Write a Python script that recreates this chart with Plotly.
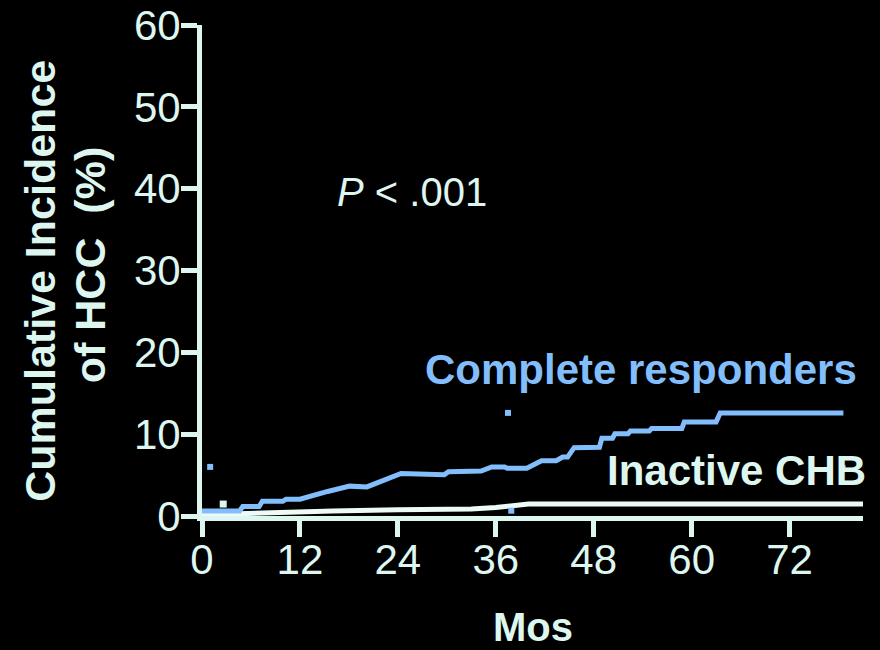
import plotly.graph_objects as go

# Cumulative incidence of HCC (%) by months of follow-up
cr_months = [0, 4.6, 5.0, 7.0, 7.4, 9.9, 10.3, 12.0, 15.4, 18.1, 20.2, 21.8, 23.4, 24.4,
             29.7, 30.2, 34.2, 35.5, 37.1, 37.4, 39.8, 41.6, 43.4, 44.2, 44.8, 45.6,
             48.7, 49.0, 50.3, 50.6, 52.2, 52.5, 54.8, 55.1, 58.8, 59.1, 63.0, 63.5, 78.6]
cr_incidence = [0.6, 0.6, 1.15, 1.15, 1.8, 1.8, 2.05, 2.05, 3.0, 3.65, 3.55, 4.2, 4.7, 5.2,
                5.05, 5.4, 5.5, 6.0, 6.0, 5.85, 5.85, 6.75, 6.75, 7.2, 7.2, 8.35,
                8.4, 9.5, 9.5, 10.05, 10.05, 10.4, 10.4, 10.7, 10.7, 11.5, 11.5, 12.6, 12.6]

chb_months = [0, 3, 10, 16, 24, 30, 33, 36, 38, 40, 81]
chb_incidence = [0.15, 0.25, 0.4, 0.6, 0.75, 0.8, 0.85, 1.05, 1.25, 1.46, 1.46]

# small square marks scattered on the chart
blue_mark_months = [1.0, 37.5, 37.9, 78.5]
blue_mark_values = [6.0, 12.6, 0.65, 5.85]
white_mark_months = [2.6]
white_mark_values = [1.46]

x_ticks = [0, 12, 24, 36, 48, 60, 72]
y_ticks = [0, 10, 20, 30, 40, 50, 60]

BLUE = "rgb(130,190,252)"
MINT = "rgb(222,246,240)"
FONT = "Liberation Sans, Arial, sans-serif"

fig = go.Figure()
fig.add_trace(go.Scatter(x=chb_months, y=chb_incidence, mode="lines",
                         line=dict(color="rgb(238,250,246)", width=5),
                         cliponaxis=False, showlegend=False))
fig.add_trace(go.Scatter(x=cr_months, y=cr_incidence, mode="lines",
                         line=dict(color=BLUE, width=5),
                         cliponaxis=False, showlegend=False))
fig.add_trace(go.Scatter(x=blue_mark_months, y=blue_mark_values, mode="markers",
                         marker=dict(symbol="square", size=6, color=BLUE),
                         cliponaxis=False, showlegend=False))
fig.add_trace(go.Scatter(x=white_mark_months, y=white_mark_values, mode="markers",
                         marker=dict(symbol="square", size=7, color=MINT),
                         cliponaxis=False, showlegend=False))

axis_common = dict(showgrid=False, zeroline=False, showline=True, linecolor=MINT,
                   linewidth=5, ticks="outside", ticklen=16, tickwidth=5,
                   tickcolor=MINT, automargin=False,
                   tickfont=dict(family=FONT, size=42, color=MINT))
fig.update_xaxes(range=[0, 81], tickvals=x_ticks, ticktext=[str(v) for v in x_ticks],
                 ticklabelstandoff=-13, **axis_common)
fig.update_yaxes(range=[0, 60], tickvals=y_ticks, ticktext=[str(v) for v in y_ticks],
                 ticklabelstandoff=-8, **axis_common)

fig.add_annotation(text="Complete responders", x=53.75, y=17.96, xref="x", yref="y",
                   showarrow=False, xanchor="center", yanchor="middle",
                   font=dict(family=FONT, size=42, color=BLUE, weight="bold"))
fig.add_annotation(text="Inactive CHB", x=65.5, y=5.56, xref="x", yref="y",
                   showarrow=False, xanchor="center", yanchor="middle",
                   font=dict(family=FONT, size=42, color=MINT, weight="bold"))
fig.add_annotation(text="<i>P</i> < .001", x=25.7, y=39.6, xref="x", yref="y",
                   showarrow=False, xanchor="center", yanchor="middle",
                   font=dict(family=FONT, size=40, color=MINT))

# axis titles placed in paper fractions
fig.add_annotation(text="Mos", x=0.5, y=-0.226, xref="paper", yref="paper",
                   showarrow=False, xanchor="center", yanchor="middle",
                   font=dict(family=FONT, size=40, color=MINT, weight="bold"))
fig.add_annotation(text="Cumulative Incidence", x=-0.245, y=0.479,
                   xref="paper", yref="paper", showarrow=False, textangle=-90,
                   xanchor="center", yanchor="middle",
                   font=dict(family=FONT, size=43, color=MINT, weight="bold"))
fig.add_annotation(text="of HCC\u00a0 (%)", x=-0.17, y=0.51,
                   xref="paper", yref="paper", showarrow=False, textangle=-90,
                   xanchor="center", yanchor="middle",
                   font=dict(family=FONT, size=43, color=MINT, weight="bold"))

fig.update_layout(width=880, height=650, paper_bgcolor="black", plot_bgcolor="black",
                  margin=dict(l=201.5, r=17, t=25, b=133.5), showlegend=False)

fig.write_html("out.html")
